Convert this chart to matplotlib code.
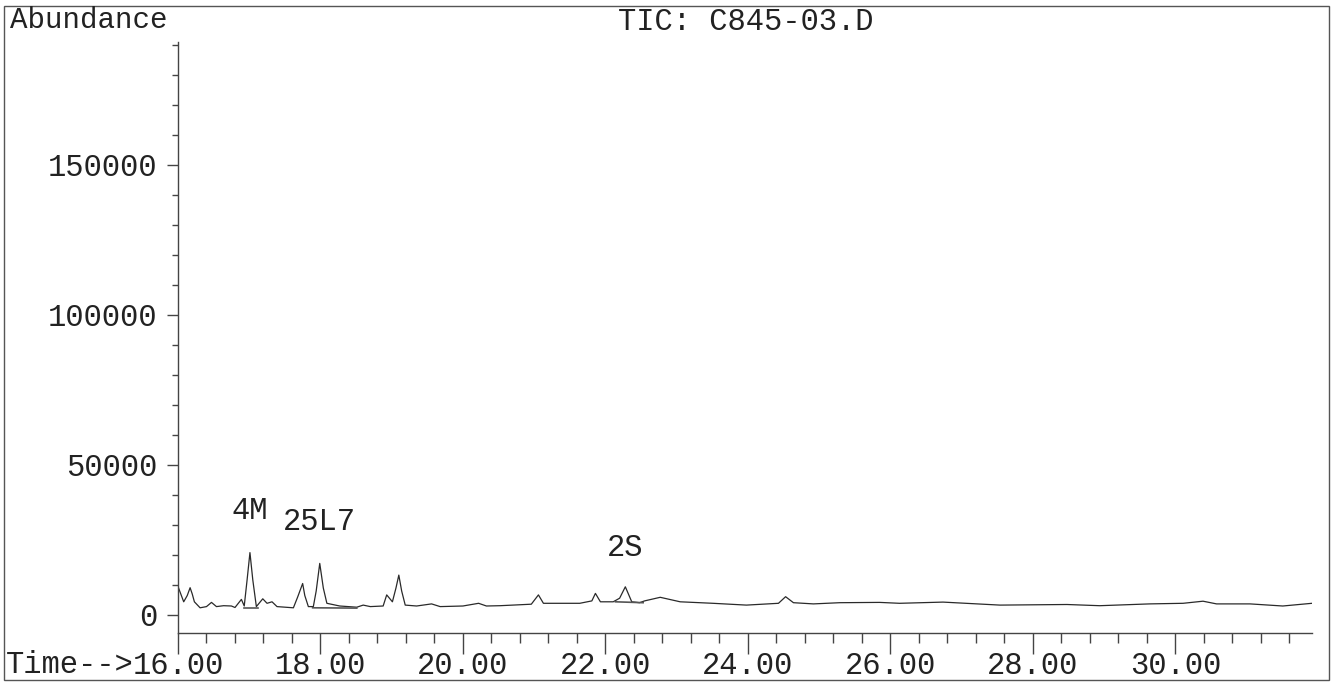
import matplotlib.pyplot as plt
from matplotlib.ticker import MultipleLocator, FormatStrFormatter
from matplotlib.patches import Rectangle

# total ion chromatogram, read point by point (time in min, abundance)
time = [16.00, 16.08, 16.13, 16.17, 16.20, 16.23, 16.31, 16.40, 16.47, 16.54,
        16.64, 16.75, 16.80, 16.89, 16.93, 16.97, 17.01, 17.05, 17.10, 17.19,
        17.25, 17.32, 17.39, 17.62, 17.68, 17.75, 17.78, 17.83, 17.90, 17.94,
        17.99, 18.04, 18.09, 18.27, 18.51, 18.60, 18.70, 18.88, 18.93, 19.01,
        19.06, 19.10, 19.14, 19.19, 19.35, 19.56, 19.68, 20.00, 20.22, 20.33,
        20.52, 20.70, 20.96, 21.06, 21.13, 21.64, 21.81, 21.86, 21.93, 22.11,
        22.20, 22.28, 22.37, 22.48, 22.55, 22.77, 23.05, 23.51, 23.98, 24.43,
        24.53, 24.64, 24.92, 25.29, 25.85, 26.13, 26.74, 27.54, 28.48, 28.94,
        29.64, 30.11, 30.39, 30.58, 31.05, 31.51, 31.92]
abundance = [9500, 4400, 6500, 9100, 7000, 4400, 2400, 2800, 4200, 2800,
             3100, 3000, 2500, 5200, 3000, 11700, 20800, 11700, 2800, 5400,
             3900, 4400, 2800, 2400, 6000, 10500, 6500, 2800, 2800, 8000,
             17200, 9000, 3900, 3000, 2600, 3300, 2800, 3000, 6700, 4400,
             9000, 13300, 8000, 3300, 3000, 3700, 2800, 3000, 3900, 3000,
             3100, 3300, 3600, 6700, 3900, 3900, 4700, 7200, 4400, 4400,
             5600, 9400, 4400, 4100, 4700, 5900, 4400, 3900, 3300, 3900,
             6100, 4100, 3700, 4100, 4200, 3900, 4300, 3300, 3500, 3100,
             3700, 3900, 4600, 3700, 3700, 3000, 3900]

# integration baselines drawn under the integrated peaks
base_start = [16.93, 17.89, 22.14]
base_end = [17.12, 18.51, 22.53]
base_level = [2400, 2400, 4400]
base_level_end = [2400, 2300, 4100]

# peak names and the peak times they sit above
peak_names = ['4M', '25L7', '2S']
peak_label_t = [17.01, 17.99, 22.28]
peak_label_y = [34800, 31100, 22300]

plt.rcParams['font.family'] = ['Liberation Mono', 'DejaVu Sans Mono']

fig = plt.figure(figsize=(13.35, 6.82), dpi=100)
ax = fig.add_axes([178 / 1335, 1 - 633 / 682, (1312 - 178) / 1335, (633 - 42) / 682])

ax.plot(time, abundance, color='#2a2a2a', lw=0.9)
for t0, t1, y0, y1 in zip(base_start, base_end, base_level, base_level_end):
    ax.plot([t0, t1], [y0, y1], color='#555555', lw=1.2)

for name, t, y in zip(peak_names, peak_label_t, peak_label_y):
    ax.text(t, y, name, ha='center', va='center', fontsize=22, color='#222222')

ax.set_xlim(16.0, 31.92)
ax.set_ylim(-6000, 191000)

ax.xaxis.set_major_locator(MultipleLocator(2))
ax.xaxis.set_minor_locator(MultipleLocator(0.4))
ax.xaxis.set_major_formatter(FormatStrFormatter('%.2f'))
ax.yaxis.set_major_locator(MultipleLocator(50000))
ax.yaxis.set_minor_locator(MultipleLocator(10000))

for s in ['top', 'right']:
    ax.spines[s].set_visible(False)
for s in ['left', 'bottom']:
    ax.spines[s].set_color('#444444')
    ax.spines[s].set_linewidth(1.0)

ax.tick_params(axis='x', which='major', direction='out', length=15, width=1,
               color='#444444', pad=-2, labelsize=22, labelcolor='#222222')
ax.tick_params(axis='x', which='minor', direction='out', length=7, width=1,
               color='#444444')
ax.tick_params(axis='y', which='major', direction='out', length=8, width=1,
               color='#444444', pad=7, labelsize=22, labelcolor='#222222')
ax.tick_params(axis='y', which='minor', direction='out', length=4, width=1,
               color='#444444')

fig.text(10 / 1335, 1 - 20 / 682, 'Abundance', ha='left', va='center',
         fontsize=21, color='#222222')
fig.text(746 / 1335, 1 - 22 / 682, 'TIC: C845-03.D', ha='center', va='center',
         fontsize=22, color='#222222')
fig.text(6 / 1335, 1 - 665 / 682, 'Time-->', ha='left', va='center',
         fontsize=22, color='#222222')

# page frame around the printout
fig.patches.append(Rectangle((4 / 1335, 1 - 680 / 682), (1329 - 4) / 1335, (680 - 6) / 682,
                             transform=fig.transFigure, fill=False,
                             edgecolor='#555555', lw=1.0))

fig.savefig('out.png', dpi=100)
